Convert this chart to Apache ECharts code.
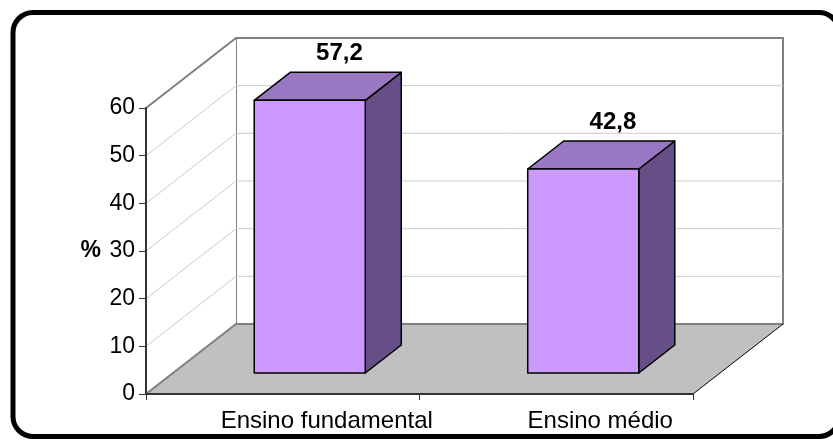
<!DOCTYPE html>
<html>
<head>
<meta charset="utf-8">
<script src="https://cdn.jsdelivr.net/npm/echarts@6/dist/echarts.min.js"></script>
<style>
html,body{margin:0;padding:0;background:#fff;}
#chart{width:833px;height:446px;}
</style>
</head>
<body>
<div id="chart"></div>
<script>
// ---- data ----
var CATEGORIES = ['Ensino fundamental', 'Ensino médio'];
var VALUES = [57.2, 42.8];
var VALUE_LABELS = ['57,2', '42,8'];
var Y_TICKS = [0, 10, 20, 30, 40, 50, 60];
var Y_NAME = '%';

// ---- style constants ----
var FONT = '"Liberation Sans", Arial, sans-serif';
var DEPTH = [90, -70];          // projected depth vector of the 3D box
var BAR_FRONT = 0.3, BAR_BACK = 0.7, BAR_WIDTH = 0.406;
var C_FRONT = '#CC99FF', C_TOP = '#9A77C2', C_SIDE = '#664F86';

var chart = echarts.init(document.getElementById('chart'), null, {renderer: 'canvas'});

function wallsRender(params, api) {
  var cs = params.coordSys;
  var x0 = cs.x, x1 = cs.x + cs.width;
  var yTop = api.coord([0, Y_TICKS[Y_TICKS.length - 1]])[1];
  var yBot = api.coord([0, 0])[1];
  var dx = DEPTH[0], dy = DEPTH[1];
  var children = [];
  // back wall
  children.push({type: 'polygon', shape: {points: [[x0 + dx, yTop + dy], [x1 + dx, yTop + dy], [x1 + dx, yBot + dy], [x0 + dx, yBot + dy]]},
    style: {fill: '#fff', stroke: '#808080', lineWidth: 2}});
  // left wall
  children.push({type: 'polygon', shape: {points: [[x0, yTop], [x0 + dx, yTop + dy], [x0 + dx, yBot + dy], [x0, yBot]]},
    style: {fill: '#fff', stroke: null}});
  // gridlines
  for (var i = 1; i < Y_TICKS.length; i++) {
    var y = api.coord([0, Y_TICKS[i]])[1];
    var isTop = i === Y_TICKS.length - 1;
    children.push({type: 'polyline', shape: {points: [[x0, y], [x0 + dx, y + dy], [x1 + dx, y + dy]]},
      style: {fill: null, stroke: isTop ? '#808080' : '#cccccc', lineWidth: isTop ? 2 : 1}});
  }
  // floor
  children.push({type: 'polygon', shape: {points: [[x0, yBot], [x0 + dx, yBot + dy], [x1 + dx, yBot + dy], [x1, yBot]]},
    style: {fill: '#C0C0C0', stroke: null}});
  children.push({type: 'polyline', shape: {points: [[x0, yBot], [x0 + dx, yBot + dy], [x1 + dx, yBot + dy]]},
    style: {fill: null, stroke: '#808080', lineWidth: 2}});
  children.push({type: 'line', shape: {x1: x1 + dx, y1: yBot + dy, x2: x1, y2: yBot},
    style: {stroke: '#000', lineWidth: 1}});
  return {type: 'group', children: children};
}

function barRender(params, api) {
  var cat = api.value(0), val = api.value(1);
  var top = api.coord([cat, val]);
  var base = api.coord([cat, 0]);
  var band = api.size([1, 0])[0];
  var w = band * BAR_WIDTH;
  var xl = top[0] - w / 2, xr = top[0] + w / 2;
  var yt = top[1], yb = base[1];
  var ox = DEPTH[0] * BAR_FRONT, oy = DEPTH[1] * BAR_FRONT;
  var bx = DEPTH[0] * BAR_BACK, by = DEPTH[1] * BAR_BACK;
  var line = {stroke: '#000', lineWidth: 1.5, lineJoin: 'round'};
  return {type: 'group', children: [
    {type: 'polygon', shape: {points: [[xr + ox, yt + oy], [xr + bx, yt + by], [xr + bx, yb + by], [xr + ox, yb + oy]]},
      style: Object.assign({fill: C_SIDE}, line)},
    {type: 'polygon', shape: {points: [[xl + ox, yt + oy], [xr + ox, yt + oy], [xr + bx, yt + by], [xl + bx, yt + by]]},
      style: Object.assign({fill: C_TOP}, line)},
    {type: 'rect', shape: {x: xl + ox, y: yt + oy, width: w, height: yb - yt},
      style: Object.assign({fill: C_FRONT}, line)},
    {type: 'text', x: top[0] + DEPTH[0] * 0.63, y: yt + by - 7,
      style: {text: VALUE_LABELS[params.dataIndex], font: 'bold 24px ' + FONT, fill: '#000',
        align: 'center', verticalAlign: 'bottom'}}
  ]};
}

var barData = CATEGORIES.map(function (c, i) { return [i, VALUES[i]]; });

chart.setOption({
  animation: false,
  backgroundColor: '#fff',
  grid: {left: 146, right: 140, top: 108, bottom: 52, containLabel: false},
  xAxis: {
    type: 'category', data: CATEGORIES, boundaryGap: true,
    axisLine: {show: true, lineStyle: {color: '#333', width: 2}},
    axisTick: {show: true, length: 6, interval: 0, lineStyle: {color: '#333', width: 1}},
    axisLabel: {fontFamily: FONT, fontSize: 24, color: '#000', margin: 15, interval: 0,
      hideOverlap: false, padding: [0, 0, 0, 88]},
    splitLine: {show: false}, z: 10
  },
  yAxis: {
    type: 'value', min: 0, max: 60, interval: 10,
    name: Y_NAME, nameLocation: 'middle', nameRotate: 0, nameGap: 45,
    nameTextStyle: {fontFamily: FONT, fontSize: 23, fontWeight: 'bold', color: '#000'},
    axisLine: {show: true, lineStyle: {color: '#333', width: 2}},
    axisTick: {show: true, length: 7, lineStyle: {color: '#333', width: 1}},
    axisLabel: {fontFamily: FONT, fontSize: 23, color: '#000', margin: 11},
    splitLine: {show: false}, z: 10
  },
  graphic: [{
    type: 'rect', shape: {x: 13, y: 12.5, width: 826, height: 424, r: 20},
    style: {fill: null, stroke: '#000', lineWidth: 5}, z: 100, silent: true
  }],
  series: [
    {type: 'custom', data: [[0, 0]], renderItem: wallsRender, z: 1, silent: true, clip: false},
    {type: 'custom', data: barData, renderItem: barRender, z: 5, silent: true, clip: false,
      encode: {x: 0, y: 1}}
  ]
});
</script>
</body>
</html>
